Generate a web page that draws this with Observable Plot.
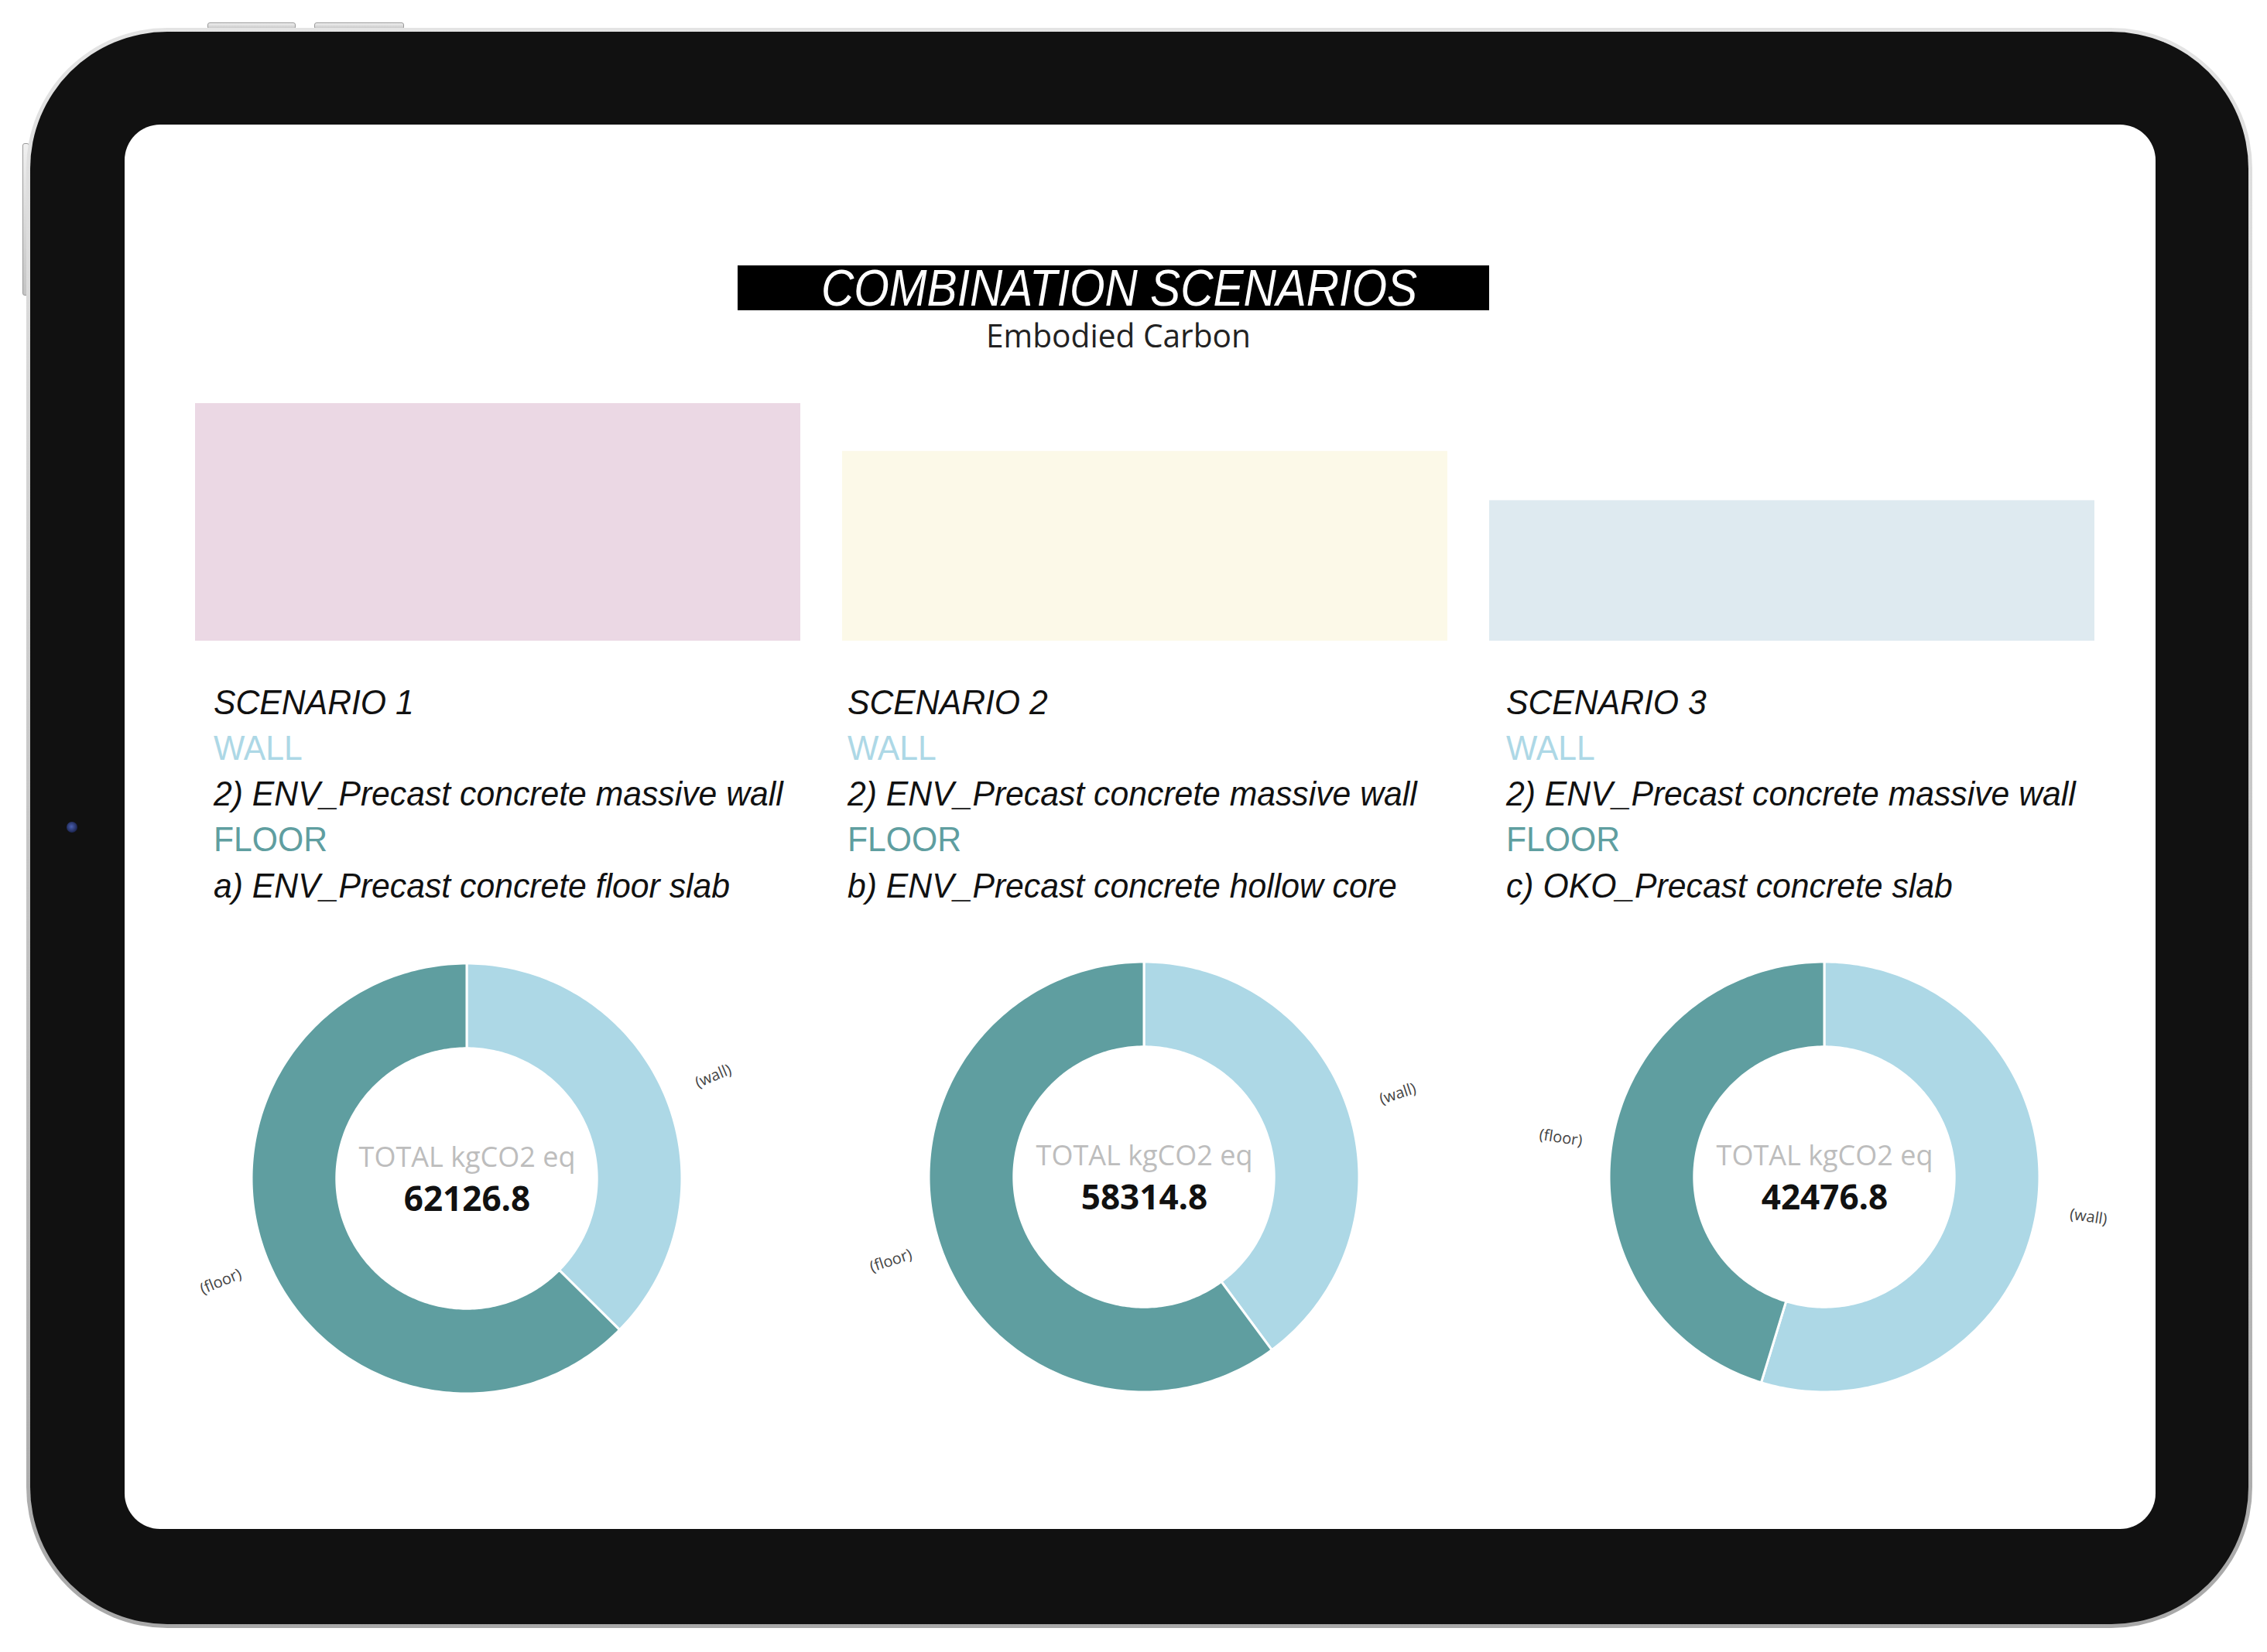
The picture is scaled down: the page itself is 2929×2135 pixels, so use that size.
<!DOCTYPE html>
<html>
<head>
<meta charset="utf-8">
<script src="https://cdn.jsdelivr.net/npm/d3@7"></script>
<script src="https://cdn.jsdelivr.net/npm/@observablehq/plot@0.6"></script>
<style>
  html, body { margin: 0; padding: 0; background: #fff; }
  #page { position: relative; width: 2929px; height: 2135px; overflow: hidden; background: #fff; }
  .abs { position: absolute; }
  .rim { left: 34px; top: 36px; width: 2876px; height: 2068px; border-radius: 182px;
         background: linear-gradient(180deg, #e4e4e4, #a8a8a8); }
  .shell { left: 39px; top: 41px; width: 2866px; height: 2058px; border-radius: 177px; background: #111; }
  .screen { left: 161px; top: 161px; width: 2624px; height: 1815px; border-radius: 46px; background: #fff; }
  .btn { background: linear-gradient(180deg, #f0f0f0, #c4c4c4); border: 1px solid #9a9a9a; border-radius: 3px; }
  .cam { left: 86px; top: 1062px; width: 14px; height: 14px; border-radius: 50%;
         background: radial-gradient(circle at 45% 45%, #4a5fb0, #1c2550 70%, #111 100%); }
</style>
</head>
<body>
<div id="page">
  <div class="abs btn" style="left:268px;top:29px;width:112px;height:7px;"></div>
  <div class="abs btn" style="left:406px;top:29px;width:114px;height:7px;"></div>
  <div class="abs btn" style="left:29px;top:185px;width:7px;height:195px;"></div>
  <div class="abs rim"></div>
  <div class="abs shell"></div>
  <div class="abs cam"></div>
  <div class="abs screen"></div>
</div>
<script>
// ---------------- DATA ----------------
const scenarios = ["SCENARIO 1", "SCENARIO 2", "SCENARIO 3"];
const components = ["wall", "floor"];
const wallValues = [23250, 23250, 23250];            // kgCO2 eq, wall share
const floorValues = [38876.8, 35064.8, 19226.8];     // kgCO2 eq, floor share
const wallTypes = ["2) ENV_Precast concrete massive wall", "2) ENV_Precast concrete massive wall", "2) ENV_Precast concrete massive wall"];
const floorTypes = ["a) ENV_Precast concrete floor slab", "b) ENV_Precast concrete hollow core", "c) OKO_Precast concrete slab"];
const panelValues = [164, 131, 97];                  // header colour panels (relative heights)
const panelColors = ["#ebd8e4", "#fcf9e8", "#deeaf0"];
const sliceColors = ["#add8e6", "#5f9ea0"];
const centerHeading = "TOTAL kgCO2 eq";
const titleText = "COMBINATION SCENARIOS";
const subtitleText = "Embodied Carbon";

const page = document.getElementById("page");
const NS = "http://www.w3.org/2000/svg";

// ---------------- TEXT OVERLAY ----------------
const svg = document.createElementNS(NS, "svg");
svg.setAttribute("width", 2929); svg.setAttribute("height", 2135);
svg.style.position = "absolute"; svg.style.left = "0"; svg.style.top = "0";
page.appendChild(svg);

function el(tag, attrs, parent) {
  const e = document.createElementNS(NS, tag);
  for (const k in attrs) e.setAttribute(k, attrs[k]);
  (parent || svg).appendChild(e);
  return e;
}
function txt(parent, s, attrs) { const t = el("text", attrs, parent); t.textContent = s; return t; }

el("rect", {x: 953, y: 343, width: 971, height: 58, fill: "#000"});
txt(svg, titleText, {x: 1061, y: 395, fill: "#fff", "font-size": 66, "font-style": "italic",
  "font-family": "'Liberation Sans Narrow', 'Liberation Sans', sans-serif", textLength: 770, lengthAdjust: "spacingAndGlyphs"});
txt(svg, subtitleText, {x: 1274, y: 449, fill: "#222", "font-size": 42,
  "font-family": "'Open Sans', sans-serif", textLength: 342, lengthAdjust: "spacingAndGlyphs"});

const colX = [276, 1095, 1946];
const FONT = "'Liberation Sans Narrow', 'Liberation Sans', sans-serif";
const groups = [];
scenarios.forEach((s, i) => {
  const g = el("g", {});
  groups.push(g);
  const base = {x: 0, "font-family": FONT, "font-size": 45};
  txt(g, s, {...base, y: 923, fill: "#111", "font-style": "italic"});
  txt(g, "WALL", {...base, y: 982, fill: sliceColors[0], "font-weight": 300});
  const w = txt(g, wallTypes[i], {...base, y: 1041, fill: "#111", "font-style": "italic"});
  txt(g, "FLOOR", {...base, y: 1100, fill: sliceColors[1], "font-weight": 300});
  txt(g, floorTypes[i], {...base, y: 1160, fill: "#111", "font-style": "italic"});
  if (i === 0) g._ref = w;
});
const measured = groups[0]._ref.getComputedTextLength();
const k = measured > 0 ? 736 / measured : 1;
groups.forEach((g, i) => g.setAttribute("transform", `translate(${colX[i]},0) scale(${k},1)`));

// ---------------- PANELS (bar chart) ----------------
const panelData = scenarios.map((s, i) => ({scenario: s, value: panelValues[i]}));
const panels = Plot.plot({
  width: 2454, height: 307, margin: 0,
  x: {domain: scenarios, paddingInner: 0.065, paddingOuter: 0, axis: null},
  y: {domain: [0, d3.max(panelValues)], axis: null},
  color: {domain: scenarios, range: panelColors},
  style: {background: "transparent", overflow: "visible"},
  marks: [Plot.barY(panelData, {x: "scenario", y: "value", fill: "scenario"})]
});
panels.style.position = "absolute"; panels.style.left = "252px"; panels.style.top = "521px";
page.appendChild(panels);

// ---------------- DONUTS ----------------
const R_PX = 278, INNER = 0.605, W = 760, H = 700;
const centers = [[603, 1523], [1478, 1521], [2357, 1521]];
const fmt = v => v.toFixed(1);

scenarios.forEach((s, i) => {
  const vals = [{k: "wall", v: wallValues[i]}, {k: "floor", v: floorValues[i]}];
  const arcs = d3.pie().sort(null).value(d => d.v)(vals);
  const rows = [], labels = [];
  for (const a of arcs) {
    const n = Math.max(4, Math.ceil((a.endAngle - a.startAngle) * 180 / Math.PI));
    for (let j = 0; j <= n; j++) {
      const t = a.startAngle + (a.endAngle - a.startAngle) * j / n;
      rows.push({slice: a.data.k, ox: Math.sin(t), oy: Math.cos(t), ix: INNER * Math.sin(t), iy: INNER * Math.cos(t)});
    }
    const c = (a.startAngle + a.endAngle) / 2;
    let rot = c * 180 / Math.PI - 90;
    while (rot > 90) rot -= 180;
    while (rot < -90) rot += 180;
    labels.push({x: 1.24 * Math.sin(c), y: 1.24 * Math.cos(c), label: `(${a.data.k})`, rot});
  }
  const total = wallValues[i] + floorValues[i];
  const centre = [{x: 0, y: 0, head: centerHeading, value: fmt(total)}];
  const chart = Plot.plot({
    width: W, height: H, margin: 0,
    x: {domain: [-W / 2 / R_PX, W / 2 / R_PX], axis: null},
    y: {domain: [-H / 2 / R_PX, H / 2 / R_PX], axis: null},
    color: {domain: components, range: sliceColors},
    style: {background: "transparent", overflow: "visible", fontFamily: "'Open Sans', sans-serif"},
    marks: [
      Plot.area(rows, {x1: "ox", y1: "oy", x2: "ix", y2: "iy", z: "slice", fill: "slice", stroke: "#fff", strokeWidth: 3}),
      Plot.text(labels, {x: "x", y: "y", text: "label", rotate: "rot", fontSize: 20, fill: "#444"}),
      Plot.text(centre, {x: "x", y: "y", text: "head", dy: -27, fontSize: 36, fill: "#bdbdbd"}),
      Plot.text(centre, {x: "x", y: "y", text: "value", dy: 27, fontSize: 44, fontWeight: "bold", fill: "#111"})
    ]
  });
  chart.style.position = "absolute";
  chart.style.left = (centers[i][0] - W / 2) + "px";
  chart.style.top = (centers[i][1] - H / 2) + "px";
  page.appendChild(chart);
});
</script>
</body>
</html>
